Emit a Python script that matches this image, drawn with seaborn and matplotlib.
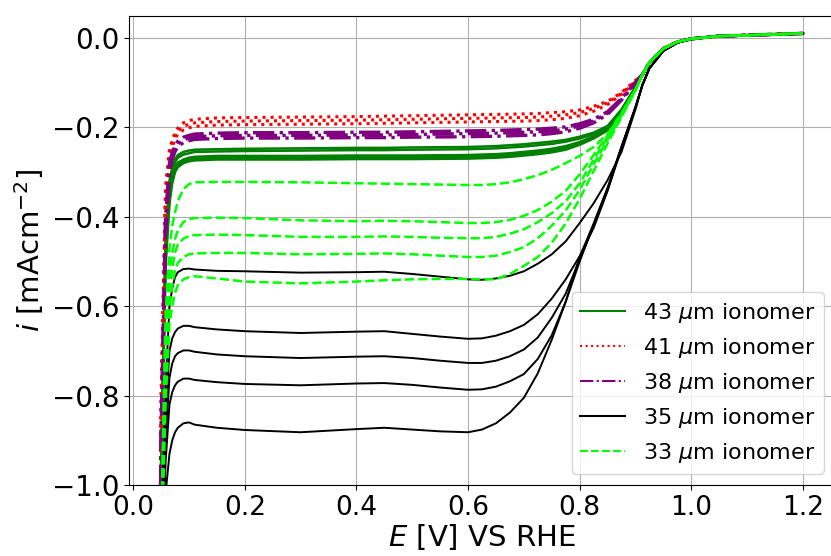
import pandas as pd
import numpy as np
import matplotlib
matplotlib.use('Agg')
import matplotlib.pyplot as plt
import seaborn as sns
from matplotlib.lines import Line2D

# Potencjal [V vs RHE] - punkty
E_head = [0.045, 0.05, 0.058, 0.065, 0.07, 0.075, 0.08, 0.09, 0.1, 0.11, 0.15, 0.2, 0.3, 0.4, 0.45,
          0.5, 0.55, 0.6, 0.625, 0.65, 0.675, 0.7, 0.725, 0.75, 0.775, 0.8, 0.825, 0.85, 0.875, 0.9]
E_tail = [0.9125, 0.925, 0.95, 0.975, 1.0, 1.05, 1.2]

tail_i = [-0.082, -0.055, -0.024, -0.009, -0.002, 0.004, 0.010]
tail_i_black = [-0.105, -0.068, -0.029, -0.011, -0.002, 0.004, 0.010]

# 43 um ionomer (zielone, ciagle)
i_43 = [
    [-1.6, -0.95, -0.45, -0.32, -0.29, -0.272, -0.262, -0.255, -0.252, -0.25, -0.249, -0.248, -0.247, -0.246, -0.246,
     -0.245, -0.2445, -0.244, -0.243, -0.242, -0.24, -0.238, -0.235, -0.232, -0.228, -0.221, -0.212, -0.197, -0.16, -0.11],
    [-1.6, -0.96, -0.47, -0.33, -0.298, -0.278, -0.268, -0.261, -0.258, -0.255, -0.254, -0.253, -0.252, -0.251, -0.251,
     -0.25, -0.2495, -0.249, -0.248, -0.247, -0.245, -0.243, -0.24, -0.237, -0.232, -0.225, -0.215, -0.199, -0.162, -0.11],
    [-1.6, -0.98, -0.49, -0.35, -0.312, -0.29, -0.279, -0.272, -0.268, -0.266, -0.264, -0.264, -0.264, -0.263, -0.263,
     -0.263, -0.2625, -0.262, -0.261, -0.26, -0.258, -0.255, -0.252, -0.248, -0.242, -0.233, -0.22, -0.203, -0.164, -0.112],
    [-1.6, -0.99, -0.5, -0.36, -0.318, -0.295, -0.284, -0.276, -0.272, -0.27, -0.268, -0.268, -0.268, -0.267, -0.267,
     -0.267, -0.2665, -0.266, -0.265, -0.264, -0.262, -0.259, -0.256, -0.252, -0.246, -0.236, -0.222, -0.205, -0.165, -0.112],
    [-1.6, -1.0, -0.51, -0.37, -0.325, -0.30, -0.289, -0.28, -0.276, -0.274, -0.272, -0.272, -0.272, -0.271, -0.271,
     -0.271, -0.2705, -0.27, -0.269, -0.268, -0.266, -0.263, -0.26, -0.256, -0.25, -0.239, -0.225, -0.207, -0.166, -0.113],
]

# 41 um ionomer (czerwone, kropkowane)
i_41 = [
    [-1.6, -0.8, -0.33, -0.25, -0.228, -0.212, -0.202, -0.19, -0.185, -0.182, -0.179, -0.178, -0.177, -0.176, -0.175,
     -0.174, -0.173, -0.172, -0.1715, -0.171, -0.1705, -0.170, -0.169, -0.167, -0.165, -0.161, -0.153, -0.142, -0.122, -0.095],
    [-1.6, -0.82, -0.35, -0.26, -0.236, -0.218, -0.208, -0.198, -0.193, -0.19, -0.187, -0.186, -0.185, -0.184, -0.183,
     -0.182, -0.181, -0.180, -0.1795, -0.179, -0.1785, -0.178, -0.177, -0.175, -0.172, -0.167, -0.158, -0.145, -0.124, -0.097],
    [-1.6, -0.84, -0.37, -0.27, -0.244, -0.226, -0.215, -0.206, -0.201, -0.198, -0.195, -0.194, -0.193, -0.192, -0.191,
     -0.19, -0.189, -0.188, -0.1875, -0.187, -0.1865, -0.186, -0.185, -0.183, -0.18, -0.174, -0.164, -0.149, -0.126, -0.098],
]

# 38 um ionomer (fioletowe, kreska-kropka)
i_38 = [
    [-1.6, -0.88, -0.40, -0.28, -0.256, -0.24, -0.231, -0.222, -0.218, -0.215, -0.213, -0.212, -0.212, -0.211, -0.211,
     -0.21, -0.209, -0.208, -0.2075, -0.207, -0.206, -0.205, -0.204, -0.202, -0.199, -0.192, -0.182, -0.165, -0.135, -0.10],
    [-1.6, -0.9, -0.42, -0.29, -0.264, -0.247, -0.237, -0.228, -0.224, -0.221, -0.219, -0.218, -0.218, -0.217, -0.217,
     -0.216, -0.215, -0.214, -0.2135, -0.213, -0.212, -0.211, -0.21, -0.208, -0.204, -0.197, -0.186, -0.168, -0.137, -0.10],
    [-1.6, -0.92, -0.44, -0.30, -0.272, -0.254, -0.244, -0.234, -0.23, -0.227, -0.225, -0.224, -0.224, -0.223, -0.223,
     -0.222, -0.2215, -0.221, -0.2205, -0.22, -0.219, -0.218, -0.217, -0.214, -0.21, -0.202, -0.19, -0.171, -0.139, -0.102],
]

# 35 um ionomer (czarne, ciagle)
i_35 = [
    [-1.6, -1.2, -0.78, -0.6, -0.56, -0.535, -0.524, -0.517, -0.516, -0.518, -0.521, -0.522, -0.525, -0.524, -0.523,
     -0.528, -0.534, -0.54, -0.541, -0.538, -0.532, -0.522, -0.505, -0.484, -0.455, -0.414, -0.37, -0.318, -0.255, -0.16],
    [-1.6, -1.25, -0.85, -0.7, -0.672, -0.658, -0.65, -0.644, -0.644, -0.647, -0.652, -0.656, -0.66, -0.657, -0.656,
     -0.662, -0.668, -0.673, -0.672, -0.666, -0.656, -0.642, -0.618, -0.583, -0.54, -0.488, -0.425, -0.342, -0.246, -0.155],
    [-1.6, -1.28, -0.9, -0.76, -0.728, -0.712, -0.705, -0.699, -0.699, -0.702, -0.708, -0.712, -0.716, -0.713, -0.712,
     -0.716, -0.722, -0.727, -0.727, -0.722, -0.712, -0.697, -0.67, -0.626, -0.572, -0.495, -0.421, -0.34, -0.245, -0.155],
    [-1.6, -1.3, -0.95, -0.82, -0.792, -0.777, -0.769, -0.762, -0.762, -0.765, -0.77, -0.774, -0.777, -0.773, -0.772,
     -0.776, -0.782, -0.787, -0.786, -0.78, -0.768, -0.752, -0.718, -0.665, -0.59, -0.5, -0.418, -0.338, -0.244, -0.155],
    [-1.6, -1.35, -1.02, -0.93, -0.9, -0.882, -0.872, -0.862, -0.86, -0.865, -0.872, -0.877, -0.882, -0.875, -0.872,
     -0.876, -0.88, -0.882, -0.876, -0.862, -0.838, -0.805, -0.75, -0.675, -0.59, -0.49, -0.415, -0.335, -0.243, -0.155],
]

# 33 um ionomer (jasnozielone, przerywane)
i_33 = [
    [-1.6, -1.1, -0.62, -0.47, -0.42, -0.39, -0.365, -0.338, -0.327, -0.323, -0.322, -0.322, -0.323, -0.325, -0.326,
     -0.327, -0.328, -0.329, -0.329, -0.327, -0.323, -0.316, -0.307, -0.295, -0.28, -0.264, -0.244, -0.215, -0.168, -0.115],
    [-1.6, -1.12, -0.68, -0.52, -0.48, -0.45, -0.43, -0.412, -0.405, -0.403, -0.402, -0.403, -0.408, -0.41, -0.409,
     -0.41, -0.412, -0.414, -0.414, -0.412, -0.407, -0.398, -0.385, -0.366, -0.342, -0.305, -0.262, -0.218, -0.17, -0.115],
    [-1.6, -1.14, -0.72, -0.56, -0.515, -0.48, -0.462, -0.449, -0.443, -0.441, -0.44, -0.441, -0.445, -0.445, -0.444,
     -0.445, -0.447, -0.448, -0.448, -0.445, -0.438, -0.428, -0.412, -0.392, -0.365, -0.325, -0.272, -0.222, -0.172, -0.116],
    [-1.6, -1.16, -0.76, -0.6, -0.555, -0.52, -0.503, -0.49, -0.484, -0.482, -0.481, -0.481, -0.484, -0.483, -0.482,
     -0.484, -0.487, -0.49, -0.49, -0.487, -0.479, -0.468, -0.448, -0.42, -0.386, -0.34, -0.283, -0.228, -0.174, -0.117],
    [-1.6, -1.18, -0.82, -0.64, -0.6, -0.57, -0.553, -0.54, -0.535, -0.533, -0.538, -0.545, -0.549, -0.545, -0.542,
     -0.54, -0.539, -0.539, -0.54, -0.54, -0.528, -0.51, -0.49, -0.458, -0.415, -0.36, -0.298, -0.236, -0.177, -0.118],
]

labels = ['43 $\\mu$m ionomer', '41 $\\mu$m ionomer', '38 $\\mu$m ionomer',
          '35 $\\mu$m ionomer', '33 $\\mu$m ionomer']
groups = [i_43, i_41, i_38, i_35, i_33]
tails = [tail_i, tail_i, tail_i, tail_i_black, tail_i]
colors = ['green', 'red', 'purple', 'black', 'lime']
styles = ['-', ':', '-.', '-', '--']
widths = [1.8, 2.2, 2.4, 1.4, 1.8]

# Budowa tabeli w formacie dlugim
rows = []
for g, (curves, tail) in enumerate(zip(groups, tails)):
    for r, head in enumerate(curves):
        for e, v in zip(E_head + E_tail, head + tail):
            rows.append((g, r, e, v))
df = pd.DataFrame(rows, columns=['grupa', 'pomiar', 'E', 'i'])

fig = plt.figure(figsize=(8.31, 5.56), dpi=100)
ax = fig.add_axes([129 / 831, 71 / 556, 706 / 831, 469 / 556])

for g in range(len(groups)):
    sns.lineplot(data=df[df['grupa'] == g], x='E', y='i', units='pomiar', estimator=None,
                 sort=False, color=colors[g], linestyle=styles[g], linewidth=widths[g],
                 legend=False, ax=ax)

ax.set_xlim(-0.0075, 1.2575)
ax.set_ylim(-1.0, 0.049)
ax.set_xticks([0.0, 0.2, 0.4, 0.6, 0.8, 1.0, 1.2])
ax.set_yticks([0.0, -0.2, -0.4, -0.6, -0.8, -1.0])
ax.grid(True, color='#b0b0b0', linewidth=0.8)
ax.tick_params(axis='y', labelsize=20)
ax.tick_params(axis='x', labelsize=19)
ax.set_xlabel('$E$ [V] VS RHE', fontsize=21, labelpad=1)
ax.set_ylabel('$i$ [mAcm$^{-2}$]', fontsize=21, labelpad=4)

handles = [Line2D([0], [0], color=c, linestyle=s, linewidth=1.5) for c, s in zip(colors, styles)]
ax.legend(handles, labels, loc='lower right', fontsize=16, framealpha=0.8)

plt.savefig('out.png', dpi=100)
